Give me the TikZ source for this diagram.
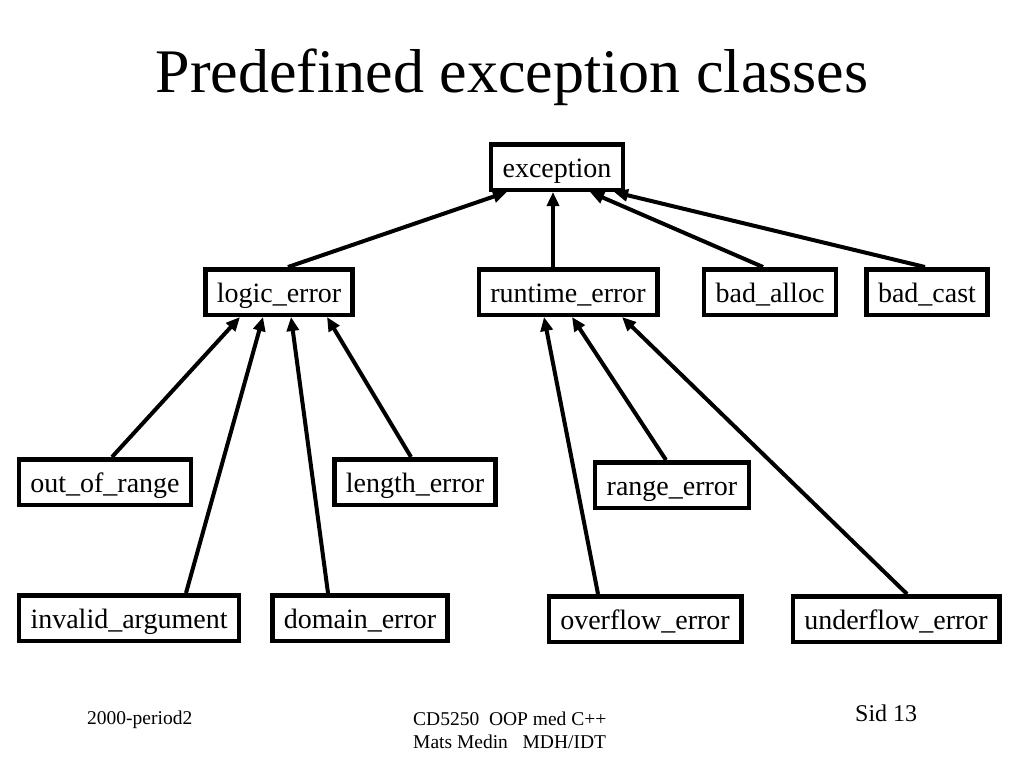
\documentclass[tikz,border=0pt]{standalone}
\usepackage{fontspec}
\setmainfont{Liberation Serif}
\usetikzlibrary{arrows.meta, positioning}

\begin{document}
\begin{tikzpicture}[
  x=1pt, y=-1pt,
  cls/.style={rectangle, draw, line width=4.5pt, minimum height=45.5pt, inner xsep=11.5pt, text height=21pt, text depth=1pt, font=\fontsize{28}{32}\selectfont},
  isa/.style={-{Triangle[length=14pt,width=12pt]}, line width=4pt},
  foot/.style={font=\fontsize{19.5}{23}\selectfont, inner sep=0pt},
]
  \useasboundingbox (0,0) rectangle (1024,768);
  \node[font=\fontsize{62}{70}\selectfont, anchor=base, inner sep=0pt] (title) at (512,92) {Predefined exception classes};

  % classes
  \node[cls] (exc) at (557,167) {exception};
  \node[cls] (logic) at (279,292) {logic\_error};
  \node[cls] (runtime) at (568,292) {runtime\_error};
  \node[cls] (alloc) at (770,292) {bad\_alloc};
  \node[cls] (cast) at (927,292) {bad\_cast};
  \node[cls] (oor) at (105,482) {out\_of\_range};
  \node[cls] (length) at (415,482) {length\_error};
  \node[cls] (range) at (672,485) {range\_error};
  \node[cls] (invalid) at (129,618) {invalid\_argument};
  \node[cls] (domain) at (360,618) {domain\_error};
  \node[cls] (overflow) at (645,619) {overflow\_error};
  \node[cls] (underflow) at (896,619) {underflow\_error};

  % inheritance
  \draw[isa] ([xshift=9pt]logic.north) -- ([xshift=-50pt]exc.south);
  \draw[isa] ([xshift=-15pt]runtime.north) -- ([xshift=-4pt]exc.south);
  \draw[isa] ([xshift=-7pt]alloc.north) -- ([xshift=33pt]exc.south);
  \draw[isa] ([xshift=-2pt]cast.north) -- ([xshift=57pt]exc.south);
  \draw[isa] ([xshift=7pt]oor.north) -- ([xshift=-39pt]logic.south);
  \draw[isa] ([xshift=57pt]invalid.north) -- ([xshift=-16pt]logic.south);
  \draw[isa] ([xshift=-32pt]domain.north) -- ([xshift=12pt]logic.south);
  \draw[isa] ([xshift=-4pt]length.north) -- ([xshift=48pt]logic.south);
  \draw[isa] ([xshift=-47pt]overflow.north) -- ([xshift=-24pt]runtime.south);
  \draw[isa] ([xshift=-6pt]range.north) -- ([xshift=4pt]runtime.south);
  \draw[isa] ([xshift=11pt]underflow.north) -- ([xshift=54pt]runtime.south);

  % footer
  \node[foot, anchor=base west] (period) at (87,724) {2000-period2};
  \node[foot, anchor=base west, align=left] (course) at (413,748) {CD5250\ \ OOP med C++\\Mats Medin\ \ \ MDH/IDT};
  \node[foot, anchor=base west, font=\fontsize{24}{26}\selectfont] (page) at (855,721) {Sid 13};
\end{tikzpicture}
\end{document}
